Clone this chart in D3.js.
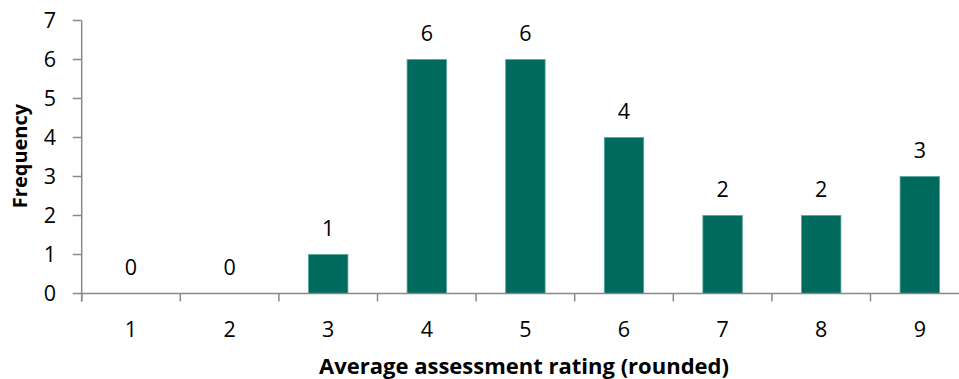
<!DOCTYPE html>
<html><head><meta charset="utf-8">
<script src="https://cdn.jsdelivr.net/npm/d3@7"></script>
<style>
html,body{margin:0;padding:0;background:#fff;overflow:hidden;}
svg{display:block;font-family:"Open Sans",sans-serif;}
</style></head>
<body><svg id="c" width="959" height="379"></svg>
<script>
const categories = ["1","2","3","4","5","6","7","8","9"];
const frequency = [0,0,1,6,6,4,2,2,3];
const yTicks = [0,1,2,3,4,5,6,7];
const xTitle = "Average assessment rating (rounded)";
const yTitle = "Frequency";

const svg = d3.select("#c");
const x0 = 81.7, step = 98.6;
const x = d3.scaleBand().domain(categories).range([x0, x0 + step*categories.length]).padding(0);
const y = d3.scaleLinear().domain([0,7]).range([293.5, 20.5]);
const axisColor = "#898989";
const barW = x.bandwidth()*0.4;
const fs = 21.5;

// bars
svg.append("g").selectAll("rect").data(frequency).join("rect")
  .attr("x", (d,i)=>x(categories[i]) + (x.bandwidth()-barW)/2)
  .attr("y", d=>y(d))
  .attr("width", barW)
  .attr("height", d=>y(0)-y(d))
  .attr("fill", "#006a5f")
  .attr("stroke", d=> d>0 ? "#5aa69c" : "none")
  .attr("stroke-width", 0.8);

// y axis
const ya = svg.append("g");
ya.append("line").attr("x1",x0).attr("x2",x0).attr("y1",y(7)).attr("y2",y(0)+8)
  .attr("stroke",axisColor).attr("stroke-width",1.5);
ya.selectAll("line.t").data(yTicks).join("line").attr("class","t")
  .attr("x1",x0-9).attr("x2",x0).attr("y1",d=>y(d)).attr("y2",d=>y(d))
  .attr("stroke",axisColor).attr("stroke-width",1.5);
ya.selectAll("text").data(yTicks).join("text")
  .attr("x",56).attr("y",d=>y(d)+7.7).attr("text-anchor","end")
  .attr("font-size",fs).attr("fill","#000").text(d=>d);

// x axis
const xa = svg.append("g");
xa.append("line").attr("x1",x0).attr("x2",x0+step*categories.length).attr("y1",y(0)).attr("y2",y(0))
  .attr("stroke",axisColor).attr("stroke-width",1.5);
xa.selectAll("line.t").data(categories).join("line").attr("class","t")
  .attr("x1",d=>x(d)).attr("x2",d=>x(d)).attr("y1",y(0)).attr("y2",y(0)+8)
  .attr("stroke",axisColor).attr("stroke-width",1.5);
xa.selectAll("text").data(categories).join("text")
  .attr("x",d=>x(d)+x.bandwidth()/2).attr("y",337).attr("text-anchor","middle")
  .attr("font-size",fs).attr("fill","#000").text(d=>d);

// value labels
svg.append("g").selectAll("text").data(frequency).join("text")
  .attr("x",(d,i)=>x(categories[i])+x.bandwidth()/2)
  .attr("y",d=>y(d)-19).attr("text-anchor","middle")
  .attr("font-size",fs).attr("fill","#000").text(d=>d);

// titles
svg.append("text").attr("x",524).attr("y",374).attr("text-anchor","middle")
  .attr("font-size",22).attr("font-weight","bold").attr("fill","#000").text(xTitle);
svg.append("text").attr("transform","translate(27,156) rotate(-90)").attr("text-anchor","middle")
  .attr("font-size",20).attr("font-weight","bold").attr("fill","#000").text(yTitle);
</script></body></html>
